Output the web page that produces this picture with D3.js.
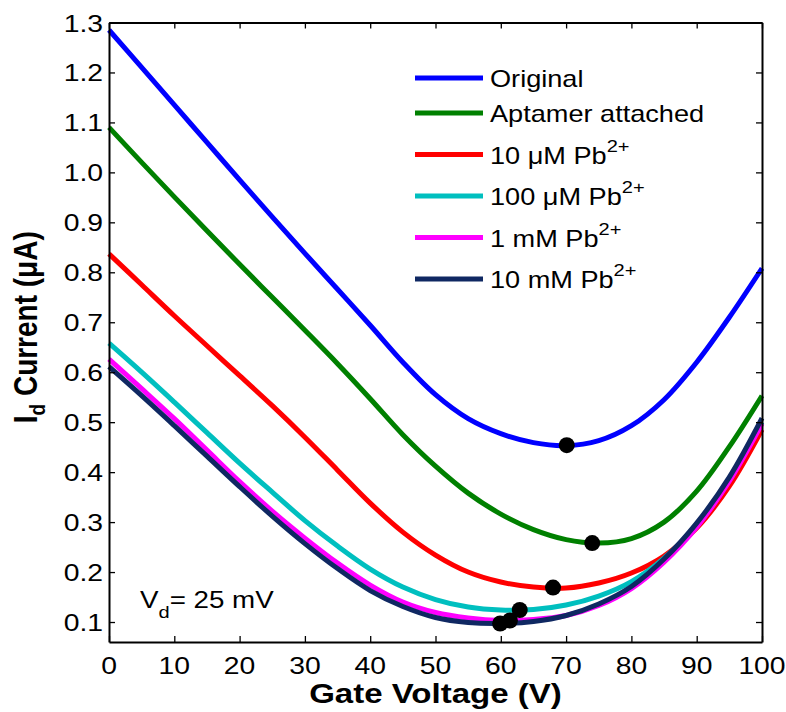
<!DOCTYPE html>
<html>
<head>
<meta charset="utf-8">
<script src="https://cdn.jsdelivr.net/npm/d3@7"></script>
<style>
  body { margin: 0; background: #fff; }
  text { font-family: "Liberation Sans", Arial, sans-serif; fill: #000; }
</style>
</head>
<body>
<svg id="chart" width="786" height="712"></svg>
<script>
"use strict";

// gate voltage samples (V)
const gateV = [0, 5, 10, 15, 20, 25, 30, 35, 40, 45, 50, 55, 60, 65, 70, 75, 80, 85, 90, 95, 100];

// drain current (uA)
const original  = [1.285, 1.21, 1.135, 1.06, 0.985, 0.911, 0.838, 0.766, 0.694, 0.62, 0.555, 0.507, 0.477, 0.459, 0.453, 0.463, 0.493, 0.545, 0.62, 0.71, 0.808];
const aptamer   = [1.09, 1.02, 0.951, 0.883, 0.816, 0.75, 0.684, 0.617, 0.547, 0.475, 0.412, 0.358, 0.316, 0.285, 0.265, 0.258, 0.267, 0.3, 0.362, 0.451, 0.553];
const pb10uM    = [0.837, 0.775, 0.713, 0.653, 0.593, 0.533, 0.47, 0.404, 0.338, 0.28, 0.234, 0.2, 0.18, 0.17, 0.168, 0.178, 0.198, 0.232, 0.288, 0.372, 0.485];
const pb100uM   = [0.658, 0.6, 0.54, 0.479, 0.418, 0.36, 0.303, 0.252, 0.206, 0.17, 0.145, 0.13, 0.124, 0.125, 0.134, 0.152, 0.181, 0.228, 0.294, 0.385, 0.5];
const pb1mM     = [0.626, 0.567, 0.507, 0.444, 0.381, 0.322, 0.268, 0.218, 0.174, 0.14, 0.119, 0.108, 0.103, 0.105, 0.113, 0.133, 0.167, 0.22, 0.29, 0.382, 0.497];
const pb10mM    = [0.611, 0.553, 0.493, 0.432, 0.371, 0.312, 0.257, 0.207, 0.163, 0.131, 0.109, 0.099, 0.097, 0.101, 0.113, 0.136, 0.171, 0.226, 0.298, 0.39, 0.508];

// minimum (Dirac point) markers
const minV = [70.1, 74.0, 68.0, 62.9, 61.4, 59.9];
const minI = [0.454, 0.258, 0.169, 0.124, 0.103, 0.097];

const seriesNames = ["Original", "Aptamer attached", "10 \u03bcM Pb", "100 \u03bcM Pb", "1 mM Pb", "10 mM Pb"];
const seriesSup = [null, null, "2+", "2+", "2+", "2+"];
const seriesColors = ["#0000ff", "#008000", "#ff0000", "#00bfbf", "#ff00ff", "#0f2862"];
const allSeries = [original, aptamer, pb10uM, pb100uM, pb1mM, pb10mM];

const xTicks = [0, 10, 20, 30, 40, 50, 60, 70, 80, 90, 100];
const yTicks = [0.1, 0.2, 0.3, 0.4, 0.5, 0.6, 0.7, 0.8, 0.9, 1.0, 1.1, 1.2, 1.3];

const plotLeft = 109, plotRight = 762, plotTop = 22.5, plotBottom = 642;
const SX = 1.18;  // the figure text is a bit wide

const svg = d3.select("#chart");

const xScale = d3.scaleLinear().domain([0, 100]).range([plotLeft, plotRight]);
const yScale = d3.scaleLinear().domain([0.06, 1.3]).range([plotBottom, plotTop]);

function wideText(g, x, y, str, size, anchor, weight) {
    return g.append("text")
        .attr("transform", `translate(${x},${y}) scale(${SX},1)`)
        .attr("font-size", size)
        .attr("font-weight", weight || "normal")
        .attr("text-anchor", anchor || "start")
        .text(str);
}

// curves
const line = d3.line()
    .x((d, i) => xScale(gateV[i]))
    .y(d => yScale(d))
    .curve(d3.curveCatmullRom.alpha(0.5));

svg.append("g").selectAll("path")
    .data(allSeries)
    .join("path")
    .attr("d", d => line(d))
    .attr("fill", "none")
    .attr("stroke", (d, i) => seriesColors[i])
    .attr("stroke-width", 5);

// minimum markers
svg.append("g").selectAll("circle")
    .data(minV)
    .join("circle")
    .attr("cx", d => xScale(d))
    .attr("cy", (d, i) => yScale(minI[i]))
    .attr("r", 8)
    .attr("fill", "#000");

// axes box with inward ticks on all sides
const axes = svg.append("g");
axes.append("g").attr("transform", `translate(0,${plotBottom})`)
    .call(d3.axisBottom(xScale).tickValues(xTicks).tickSizeInner(-6).tickSizeOuter(0).tickFormat(""));
axes.append("g").attr("transform", `translate(0,${plotTop})`)
    .call(d3.axisTop(xScale).tickValues(xTicks).tickSizeInner(-6).tickSizeOuter(0).tickFormat(""));
axes.append("g").attr("transform", `translate(${plotLeft},0)`)
    .call(d3.axisLeft(yScale).tickValues(yTicks).tickSizeInner(-6).tickSizeOuter(0).tickFormat(""));
axes.append("g").attr("transform", `translate(${plotRight},0)`)
    .call(d3.axisRight(yScale).tickValues(yTicks).tickSizeInner(-6).tickSizeOuter(0).tickFormat(""));
axes.selectAll(".domain").attr("stroke", "#000").attr("stroke-width", 2);
axes.selectAll(".tick line").attr("stroke", "#000").attr("stroke-width", 1.3);

// tick labels
const labels = svg.append("g");
xTicks.forEach(t => wideText(labels, xScale(t), 674, String(t), 24, "middle"));
yTicks.forEach(t => wideText(labels, 103, yScale(t) + 9, t.toFixed(1), 24, "end"));

// axis titles
wideText(svg, xScale(50), 703, "Gate Voltage (V)", 28, "middle", "bold");

const yTitle = svg.append("text")
    .attr("transform", `translate(37,${yScale(0.69)}) rotate(-90) scale(1,${SX})`)
    .attr("font-size", 28)
    .attr("font-weight", "bold")
    .attr("text-anchor", "middle");
yTitle.append("tspan").text("I");
yTitle.append("tspan").attr("font-size", 19).attr("dy", 7).text("d");
yTitle.append("tspan").attr("dy", -7).text(" Current (\u03bcA)");

// V_d annotation
const vd = svg.append("text")
    .attr("transform", `translate(140,608) scale(${SX},1)`)
    .attr("font-size", 23.5);
vd.append("tspan").text("V");
vd.append("tspan").attr("font-size", 17).attr("dy", 10).text("d");
vd.append("tspan").attr("dy", -10).text("= 25 mV");

// legend
const legend = svg.append("g");
let rowY = 78;
seriesNames.forEach((name, i) => {
    if (i > 0) rowY += seriesSup[i] ? 41.5 : 35;
    legend.append("line")
        .attr("x1", 415).attr("x2", 483)
        .attr("y1", rowY).attr("y2", rowY)
        .attr("stroke", seriesColors[i])
        .attr("stroke-width", 5);
    const t = legend.append("text")
        .attr("transform", `translate(490,${rowY + 9}) scale(${SX},1)`)
        .attr("font-size", 23);
    t.append("tspan").text(name);
    if (seriesSup[i]) {
        t.append("tspan").attr("font-size", 17).attr("dy", -12).text(seriesSup[i]);
    }
});
</script>
</body>
</html>
